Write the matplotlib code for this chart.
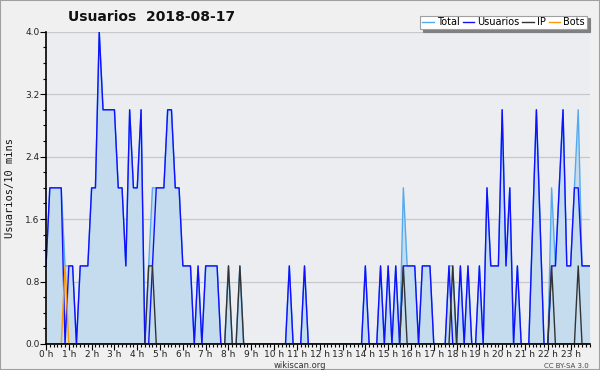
import numpy as np
import matplotlib
matplotlib.use('Agg')
import matplotlib.pyplot as plt
from matplotlib.ticker import MultipleLocator, FormatStrFormatter
from matplotlib.patches import Rectangle

# ---------- data: one row per hour, 6 slots of 10 min ----------
total = [
    1, 2, 2, 2, 2, 1,   1, 1, 0, 1, 1, 1,   2, 2, 4, 3, 3, 3,   3, 2, 2, 1, 3, 2,
    2, 3, 0, 1, 2, 2,   2, 2, 3, 3, 2, 2,   1, 1, 1, 0, 1, 0,   1, 1, 1, 1, 0, 0,
    1, 0, 0, 1, 0, 0,   0, 0, 0, 0, 0, 0,   0, 0, 0, 0, 1, 0,   0, 0, 1, 0, 0, 0,
    0, 0, 0, 0, 0, 0,   0, 0, 0, 0, 0, 0,   1, 0, 0, 0, 1, 0,   1, 0, 1, 0, 2, 1,
    1, 1, 0, 1, 1, 1,   0, 0, 0, 0, 1, 1,   0, 1, 0, 1, 0, 0,   1, 0, 2, 1, 1, 1,
    3, 1, 2, 0, 1, 0,   0, 0, 1.5, 3, 1.5, 0,   0, 2, 1, 2, 3, 1,   1, 2, 3, 1, 1, 1,
]
usuarios = [
    1, 2, 2, 2, 2, 0,   1, 1, 0, 1, 1, 1,   2, 2, 4, 3, 3, 3,   3, 2, 2, 1, 3, 2,
    2, 3, 0, 0, 1, 2,   2, 2, 3, 3, 2, 2,   1, 1, 1, 0, 1, 0,   1, 1, 1, 1, 0, 0,
    0, 0, 0, 0, 0, 0,   0, 0, 0, 0, 0, 0,   0, 0, 0, 0, 1, 0,   0, 0, 1, 0, 0, 0,
    0, 0, 0, 0, 0, 0,   0, 0, 0, 0, 0, 0,   1, 0, 0, 0, 1, 0,   1, 0, 1, 0, 1, 1,
    1, 1, 0, 1, 1, 1,   0, 0, 0, 0, 1, 0,   0, 1, 0, 1, 0, 0,   1, 0, 2, 1, 1, 1,
    3, 1, 2, 0, 1, 0,   0, 0, 1.5, 3, 1.5, 0,   0, 1, 1, 2, 3, 1,   1, 2, 2, 1, 1, 1,
]
ip = [
    0, 0, 0, 0, 0, 0,   0, 0, 0, 0, 0, 0,   0, 0, 0, 0, 0, 0,   0, 0, 0, 0, 0, 0,
    0, 0, 0, 1, 1, 0,   0, 0, 0, 0, 0, 0,   0, 0, 0, 0, 0, 0,   0, 0, 0, 0, 0, 0,
    1, 0, 0, 1, 0, 0,   0, 0, 0, 0, 0, 0,   0, 0, 0, 0, 0, 0,   0, 0, 0, 0, 0, 0,
    0, 0, 0, 0, 0, 0,   0, 0, 0, 0, 0, 0,   0, 0, 0, 0, 0, 0,   0, 0, 0, 0, 1, 0,
    0, 0, 0, 0, 0, 0,   0, 0, 0, 0, 0, 1,   0, 0, 0, 0, 0, 0,   0, 0, 0, 0, 0, 0,
    0, 0, 0, 0, 0, 0,   0, 0, 0, 0, 0, 0,   0, 1, 0, 0, 0, 0,   0, 0, 1, 0, 0, 0,
]
bots = [
    0, 0, 0, 0, 0, 1,
] + [0] * 138
hour_labels = ['%d h' % h for h in range(24)]

C_TOTAL = '#55aaee'; C_USR = '#1010ff'; C_IP = '#333333'; C_BOT = '#ff9900'
C_FILL = '#c5dcef'

fig = plt.figure(figsize=(6, 3.7), dpi=100, facecolor='#f0f0f0')
fig.patches.append(Rectangle((0, 0), 1, 1, transform=fig.transFigure, fill=False,
                             edgecolor='#a0a0a0', lw=1.5))
ax = fig.add_axes([0.0767, 0.0703, 0.906, 0.844])
ax.set_facecolor('#ecedf0')

x = np.arange(len(total))
ax.fill_between(x, total, color=C_FILL, lw=0, zorder=1)
ax.plot(x, total, color=C_TOTAL, lw=1, label='Total', zorder=3)
ax.plot(x, usuarios, color=C_USR, lw=1, label='Usuarios', zorder=4)
ax.plot(x, ip, color=C_IP, lw=1, label='IP', zorder=5)
ax.plot(x, bots, color=C_BOT, lw=1, label='Bots', zorder=6)

ax.set_xlim(0, 143)
ax.set_ylim(0, 4)
ax.yaxis.set_major_locator(MultipleLocator(0.8))
ax.yaxis.set_minor_locator(MultipleLocator(0.2))
ax.yaxis.set_major_formatter(FormatStrFormatter('%.1f'))
ax.set_xticks(np.arange(0, 144, 6))
ax.set_xticklabels(hour_labels)
ax.xaxis.set_minor_locator(MultipleLocator(1))
ax.tick_params(axis='both', which='major', labelsize=6.5, length=4, width=0.8,
               color='black', labelcolor='#222222', pad=0.5)
ax.tick_params(axis='both', which='minor', length=2.5, width=0.8)
ax.grid(axis='y', color='#c8c8c8', lw=0.9, zorder=0)
ax.set_axisbelow(True)
for s in ('top', 'right'):
    ax.spines[s].set_visible(False)
for s in ('left', 'bottom'):
    ax.spines[s].set_linewidth(1.2)
    ax.spines[s].set_zorder(7)

fig.text(0.252, 0.953, 'Usuarios  2018-08-17', ha='center', va='center',
         fontsize=10, fontweight='bold', color='#111111')
fig.text(0.017, 0.492, 'Usuarios/10 mins', rotation=90, ha='center', va='center',
         fontsize=7.5, family='DejaVu Sans Mono', color='#111111')
fig.text(0.5, 0.012, 'wikiscan.org', ha='center', va='center', fontsize=6, color='#333333')
fig.text(0.982, 0.012, 'CC BY-SA 3.0', ha='right', va='center', fontsize=5, color='#444444')

leg = fig.legend(loc='upper right', bbox_to_anchor=(0.978, 0.958), ncol=4, fontsize=7,
                 frameon=True, fancybox=False, shadow={'color': '#808080', 'alpha': 1},
                 handlelength=1.2, handletextpad=0.3, columnspacing=0.3,
                 borderpad=0.2, borderaxespad=0)
leg.get_frame().set_edgecolor('#a0a0a0')
leg.get_frame().set_facecolor('white')
leg.get_frame().set_linewidth(0.8)

fig.savefig('out.png', dpi=100, facecolor=fig.get_facecolor())
